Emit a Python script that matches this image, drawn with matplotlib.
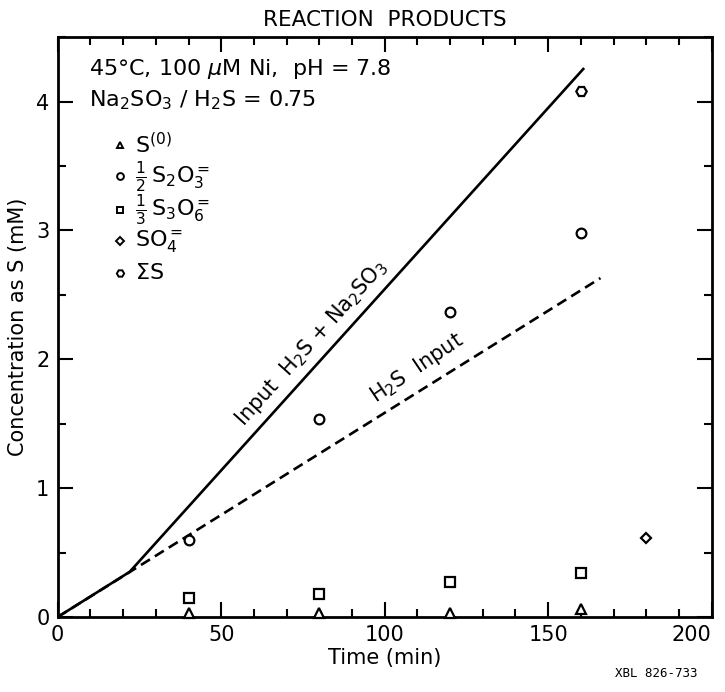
"""Reaction products vs time, Ni-catalysed sulfite/H2S run (re-drawn figure)."""

import matplotlib

matplotlib.use("Agg")
import matplotlib.pyplot as plt
from matplotlib.ticker import MultipleLocator

# input feed lines
h2s_input_t = [0, 166]
h2s_input_c = [0, 2.63]
total_input_t = [0, 22, 161]
total_input_c = [0, 0.35, 4.26]

# measured species (mM as S)
s0_t = [40, 80, 120, 160]
s0_c = [0.03, 0.03, 0.03, 0.06]
thio_t = [40, 80, 120, 160]
thio_c = [0.60, 1.54, 2.37, 2.98]
trithio_t = [40, 80, 120, 160]
trithio_c = [0.15, 0.18, 0.27, 0.34]
sulfate_t = [180]
sulfate_c = [0.615]
sum_t = [160]
sum_c = [4.08]

x_ticks = [0, 50, 100, 150, 200]
y_ticks = [0, 1, 2, 3, 4]

SERIES = [
    (s0_t, s0_c, "^", r"S$^{(0)}$"),
    (thio_t, thio_c, "o", r"$\frac{1}{2}\,$S$_2$O$_3^{=}$"),
    (trithio_t, trithio_c, "s", r"$\frac{1}{3}\,$S$_3$O$_6^{=}$"),
    (sulfate_t, sulfate_c, "D", r"SO$_4^{=}$"),
    (sum_t, sum_c, "H", r"$\Sigma$S"),
]
MSIZE = {"^": 6.5, "o": 7, "s": 6.5, "D": 5.5, "H": 7.5}

plt.rcParams["mathtext.fontset"] = "dejavusans"

fig = plt.figure(figsize=(7.25, 6.92), dpi=100)
ax = fig.add_axes([0.0796, 0.1084, 0.902, 0.838])

ax.plot(total_input_t, total_input_c, color="black", lw=1.9, solid_capstyle="butt")
ax.plot(h2s_input_t, h2s_input_c, color="black", lw=1.9, ls=(0, (4, 2.2)))

for t, c, m, _ in SERIES:
    ax.plot(t, c, ls="none", marker=m, ms=MSIZE[m], mfc="white", mec="black", mew=1.6,
            clip_on=False, zorder=3)

# hand-made key, as in the original figure
key_y = [0.814, 0.760, 0.702, 0.648, 0.594]
for (_, _, m, label), y in zip(SERIES, key_y):
    ax.plot([0.095], [y], transform=ax.transAxes, marker=m, ms=MSIZE[m] * 0.7,
            mfc="white", mec="black", mew=1.4, ls="none")
    ax.text(0.118, y, label, transform=ax.transAxes, fontsize=16, va="center")

ax.set_xticks(x_ticks)
ax.set_yticks(y_ticks)
ax.set_xlim(0, 200)
ax.set_ylim(0, 4.5)
ax.xaxis.set_minor_locator(MultipleLocator(10))
ax.yaxis.set_minor_locator(MultipleLocator(0.5))
ax.tick_params(which="both", direction="in", top=True, right=True, width=1.5,
               labelsize=15, pad=6)
ax.tick_params(which="major", length=11)
ax.tick_params(which="minor", length=6)
ax.get_xticklabels()[-1].set_horizontalalignment("right")
for sp in ax.spines.values():
    sp.set_linewidth(2)

ax.set_xlabel("Time (min)", fontsize=15, labelpad=2)
ax.set_ylabel("Concentration as S (mM)", fontsize=15, labelpad=6)
ax.set_title("REACTION  PRODUCTS", fontsize=15.5, pad=8)

# condition text block
ax.text(0.048, 0.945, "45°C, 100 $\\mu$M Ni,  pH = 7.8", transform=ax.transAxes,
        fontsize=16, va="center")
ax.text(0.048, 0.891, r"Na$_2$SO$_3$ / H$_2$S = 0.75", transform=ax.transAxes,
        fontsize=16, va="center")

# line labels
ax.text(77.5, 2.13, r"Input  H$_2$S + Na$_2$SO$_3$", fontsize=15, rotation=48,
        ha="center", va="center", rotation_mode="anchor")
ax.text(110, 1.93, r"H$_2$S  Input", fontsize=15, rotation=34,
        ha="center", va="center", rotation_mode="anchor")

fig.text(0.905, 0.027, "XBL 826-733", fontsize=9, family="DejaVu Sans Mono",
         ha="center", va="center")

fig.savefig("out.png", dpi=100)
